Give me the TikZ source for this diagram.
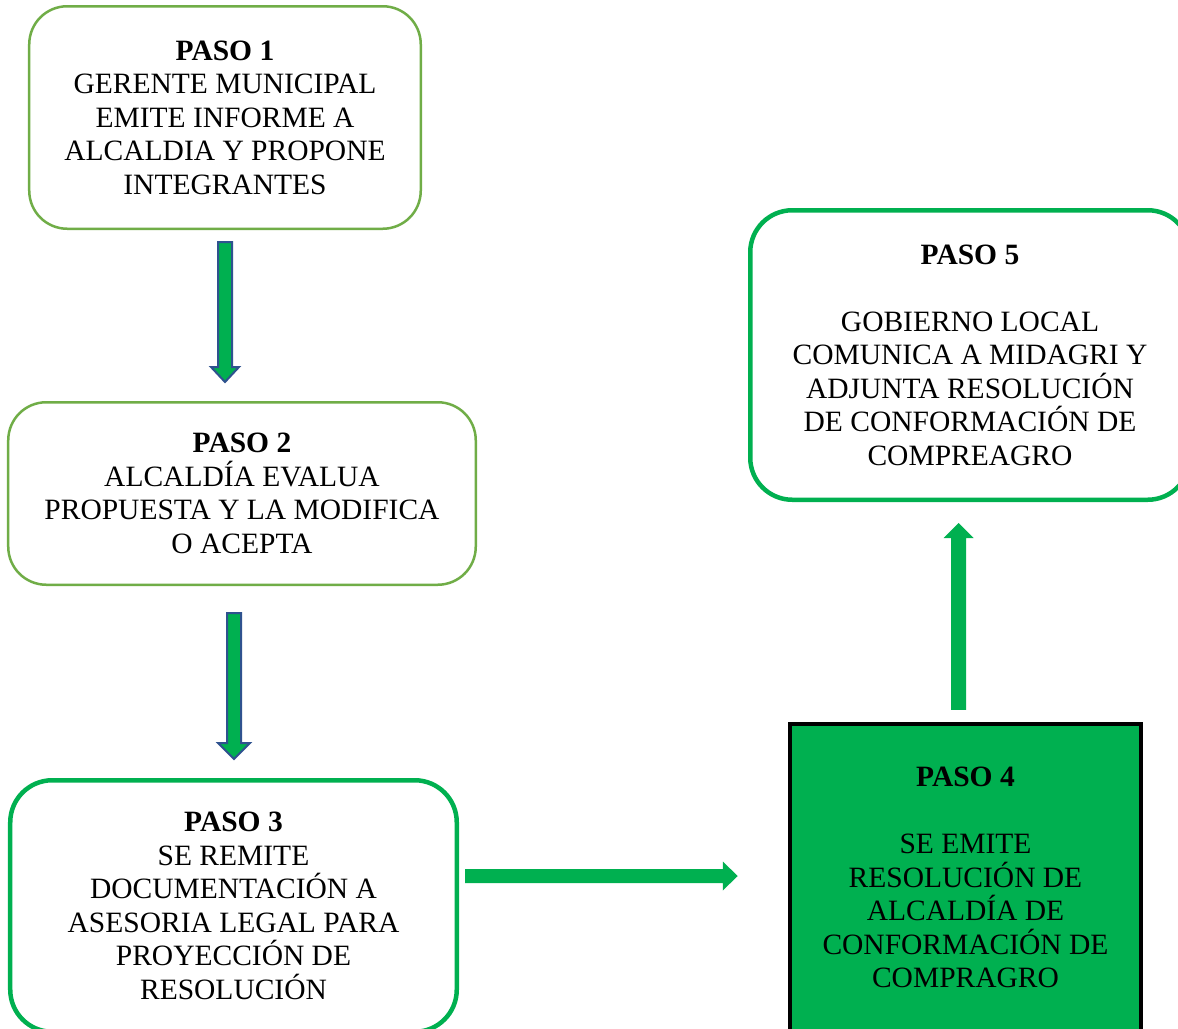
\documentclass[tikz,border=0pt]{standalone}
\usepackage{fontspec}
\setmainfont{Liberation Serif}
\usetikzlibrary{calc}
\definecolor{lgreen}{HTML}{70AD47}
\definecolor{bgreen}{HTML}{00B050}
\definecolor{arrblue}{HTML}{2F528F}
\newcommand{\blockarr}[6]{%
  \path ($(#2)!#5!(#1)$) coordinate (hb);
  \draw[#6] ($(#1)!#3!90:(#2)$) -- ($(hb)!#3!90:(#2)$) -- ($(hb)!#4!90:(#2)$)
    -- (#2) -- ($(hb)!#4!-90:(#2)$) -- ($(hb)!#3!-90:(#2)$) -- ($(#1)!#3!-90:(#2)$) -- cycle;
}
\tikzset{
  txt/.style={align=center, font=\fontsize{29.5bp}{33.5bp}\selectfont, text=black, inner sep=0pt},
  softbox/.style={txt, draw=lgreen, line width=2.5bp, rounded corners=38bp, fill=white},
  strongbox/.style={txt, draw=bgreen, line width=4.5bp, rounded corners=42bp, fill=white},
  greenbox/.style={txt, draw=black, line width=4.5bp, fill=bgreen},
  bluearrow/.style={fill=bgreen, draw=arrblue, line width=2bp, line join=miter},
  plainarrow/.style={fill=bgreen, draw=none},
}
\begin{document}
\begin{tikzpicture}[x=1bp,y=-1bp]
\useasboundingbox (0,0) rectangle (1178,1029);
\clip (0,0) rectangle (1178,1029);
\fill[white] (0,0) rectangle (1178,1029);

\node[softbox, minimum width=391.5bp, minimum height=222.5bp] (b1) at (225,117.5)
  {\textbf{PASO 1}\\GERENTE MUNICIPAL\\EMITE INFORME A\\ALCALDIA Y PROPONE\\INTEGRANTES};
\node[softbox, minimum width=467.5bp, minimum height=182.5bp] (b2) at (242,493.5)
  {\textbf{PASO 2}\\ALCALDÍA EVALUA\\PROPUESTA Y LA MODIFICA\\O ACEPTA};
\node[strongbox, minimum width=446.5bp, minimum height=251.5bp] (b3) at (233.5,906)
  {\textbf{PASO 3}\\SE REMITE\\DOCUMENTACIÓN A\\ASESORIA LEGAL PARA\\PROYECCIÓN DE\\RESOLUCIÓN};
\node[greenbox, minimum width=351bp, minimum height=307bp] (b4) at (965.5,877.5)
  {\textbf{PASO 4}\\[33.5bp]SE EMITE\\RESOLUCIÓN DE\\ALCALDÍA DE\\CONFORMACIÓN DE\\COMPRAGRO};
\node[strongbox, minimum width=439.5bp, minimum height=289.5bp] (b5) at (970,355)
  {\textbf{PASO 5}\\[33.5bp]GOBIERNO LOCAL\\COMUNICA A MIDAGRI Y\\ADJUNTA RESOLUCIÓN\\DE CONFORMACIÓN DE\\COMPREAGRO};

% arrow 1 -> 2
\coordinate (a1s) at ($(b1.south)+(0,12)$);
\coordinate (a1e) at ($(a1s |- b2.north)+(0,-19)$);
\blockarr{a1s}{a1e}{7bp}{14bp}{15bp}{bluearrow}
% arrow 2 -> 3
\coordinate (a2s) at ($(b2.south)+(-8,27)$);
\coordinate (a2e) at ($(a2s |- b3.north)+(0,-19)$);
\blockarr{a2s}{a2e}{7bp}{16bp}{16bp}{bluearrow}
% arrow 3 -> 4
\coordinate (a3s) at ($(b3.east)+(6,-30)$);
\coordinate (a3e) at ($(a3s -| b4.west)+(-50,0)$);
\blockarr{a3s}{a3e}{7bp}{14.5bp}{15bp}{plainarrow}
% arrow 4 -> 5
\coordinate (a4s) at ($(b4.north)+(-7,-12)$);
\coordinate (a4e) at ($(a4s |- b5.south)+(0,21)$);
\blockarr{a4s}{a4e}{7.5bp}{15bp}{15bp}{plainarrow}
\end{tikzpicture}
\end{document}
